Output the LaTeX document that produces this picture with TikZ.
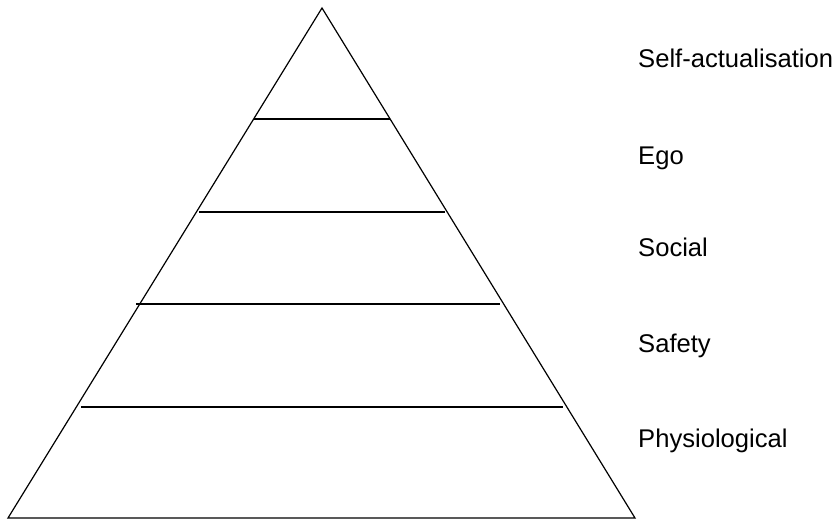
\documentclass[tikz,border=0pt]{standalone}
\usepackage{fontspec}
\setmainfont{Liberation Sans}
\begin{document}
\begin{tikzpicture}[x=1pt,y=-1pt,
  edge/.style={draw=black,line width=1.2pt},
  lvl/.style={anchor=base west,inner sep=0pt,font=\fontsize{25.6}{30}\selectfont}]
\useasboundingbox (0,0) rectangle (836,519);
\coordinate (apex) at (322,8);
\coordinate (bl) at (8,518);
\coordinate (br) at (635,518);
\draw[edge,line join=miter] (apex) -- (bl) -- (br) -- cycle;
\coordinate (l1a) at (254,119); \coordinate (l1b) at (390,119);
\coordinate (l2a) at (199,212); \coordinate (l2b) at (445,212);
\coordinate (l3a) at (136,304); \coordinate (l3b) at (500,304);
\coordinate (l4a) at (81,407);  \coordinate (l4b) at (563,407);
\draw[edge] (l1a) -- (l1b);
\draw[edge] (l2a) -- (l2b);
\draw[edge] (l3a) -- (l3b);
\draw[edge] (l4a) -- (l4b);
\node[lvl] (t1) at (638,68) {Self-actualisation};
\node[lvl] (t2) at (638,164) {Ego};
\node[lvl] (t3) at (638,256) {Social};
\node[lvl] (t4) at (638,352) {Safety};
\node[lvl] (t5) at (638,447) {Physiological};
\end{tikzpicture}
\end{document}
